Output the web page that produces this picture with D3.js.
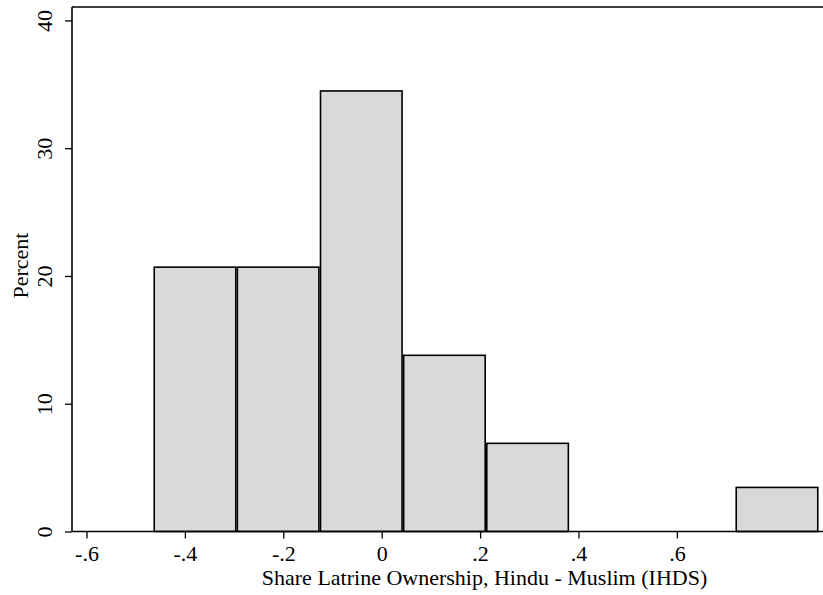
<!DOCTYPE html>
<html>
<head>
<meta charset="utf-8">
<script src="https://cdn.jsdelivr.net/npm/d3@7"></script>
<style>
    body { margin: 0; background: #fff; }
    svg { display: block; }
    text { font-family: "Liberation Serif", "Times New Roman", serif; fill: #000; }
</style>
</head>
<body>
<div id="view"></div>
<script>
// histogram bins
var binEdges = [-0.464, -0.295, -0.126, 0.043, 0.212, 0.381, 0.550, 0.719, 0.888];
var percent = [20.69, 20.69, 34.48, 13.79, 6.90, 0, 0, 3.45];
var xTicks = [-0.6, -0.4, -0.2, 0, 0.2, 0.4, 0.6];
var yTicks = [0, 10, 20, 30, 40];
var xTitle = "Share Latrine Ownership, Hindu - Muslim (IHDS)";
var yTitle = "Percent";

var width = 823, height = 595;
var plot = {left: 72, right: 823, top: 7, bottom: 531.5};
var fontSize = 22;
var inset = 0.8;

var bins = percent.map((p, i) => ({x0: binEdges[i], x1: binEdges[i + 1], y: p}));

var x = d3.scaleLinear().domain([-0.6295, 0.897]).range([plot.left, plot.right]);
var y = d3.scaleLinear().domain([0, 41.05]).range([plot.bottom, plot.top]);

// Stata style: ".2", "-.4", "0"
var fmt = d => d === 0 ? "0" : (d < 0 ? "-" : "") + d3.format(".1f")(Math.abs(d)).replace(/^0/, "");

var svg = d3.select("#view").append("svg")
    .attr("width", width)
    .attr("height", height);

// top frame line
svg.append("line")
    .attr("x1", plot.left).attr("x2", plot.right)
    .attr("y1", y(41.05)).attr("y2", y(41.05))
    .attr("stroke", "#000").attr("stroke-width", 1.6);

svg.append("g")
    .selectAll("rect")
    .data(bins.filter(d => d.y > 0))
    .enter()
    .append("rect")
    .attr("x", d => x(d.x0) + inset)
    .attr("width", d => x(d.x1) - x(d.x0) - 2 * inset)
    .attr("y", d => y(d.y))
    .attr("height", d => y(0) - y(d.y))
    .attr("fill", "#d9d9d9")
    .attr("stroke", "#000")
    .attr("stroke-width", 1.6);

var xAxis = svg.append("g")
    .attr("transform", `translate(0, ${plot.bottom})`)
    .call(d3.axisBottom(x).tickValues(xTicks).tickFormat(fmt).tickSize(7).tickPadding(7));
xAxis.attr("font-size", fontSize).attr("font-family", null);
xAxis.select(".domain").attr("d", `M${plot.left},0H${plot.right}`).attr("stroke-width", 1.6);
xAxis.selectAll("line").attr("stroke-width", 1.3);

var yAxis = svg.append("g")
    .attr("transform", `translate(${plot.left}, 0)`)
    .call(d3.axisLeft(y).tickValues(yTicks).tickSize(7).tickPadding(6));
yAxis.attr("font-size", fontSize).attr("font-family", null);
yAxis.select(".domain").attr("d", `M0,${plot.top}V${plot.bottom}`).attr("stroke-width", 1.6);
yAxis.selectAll("line").attr("stroke-width", 1.3);
yAxis.selectAll("text")
    .attr("x", null).attr("dy", null)
    .attr("text-anchor", "middle")
    .attr("transform", "translate(-20.5, 0) rotate(-90)")
    .attr("y", 0);

svg.append("text")
    .attr("x", x(0.209))
    .attr("y", 585)
    .attr("text-anchor", "middle")
    .attr("font-size", fontSize)
    .text(xTitle);

svg.append("text")
    .attr("transform", `translate(28, 265.5) rotate(-90)`)
    .attr("text-anchor", "middle")
    .attr("font-size", fontSize)
    .text(yTitle);
</script>
</body>
</html>
